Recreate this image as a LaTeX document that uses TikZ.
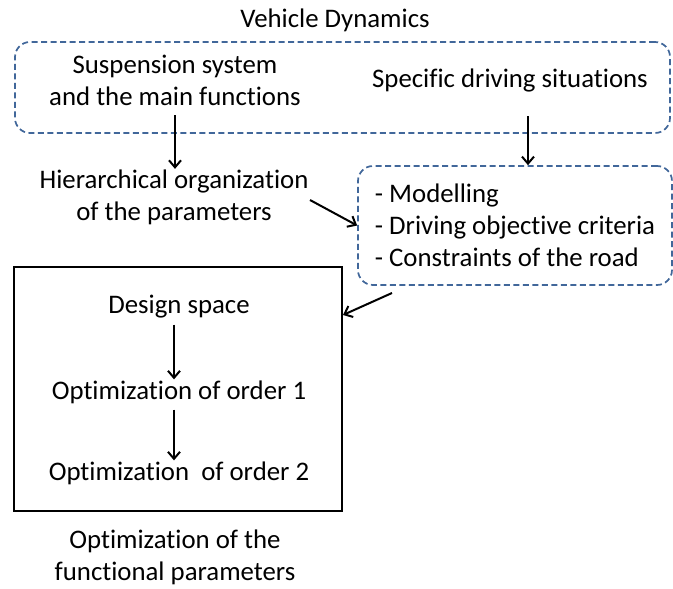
\documentclass[tikz,border=0pt]{standalone}
\usepackage{fontspec}
\setmainfont{Carlito}[Ligatures=NoCommon]
\usetikzlibrary{arrows.meta}
\definecolor{dashblue}{RGB}{65,103,154}
\begin{document}
\begin{tikzpicture}[x=1pt,y=-1pt,font=\fontsize{26.8}{32}\selectfont,
  arr/.style={line width=2pt,-{Straight Barb[length=7pt,width=12pt,line width=2pt]}},
  dashbox/.style={draw=dashblue,line width=1.7pt,dash pattern=on 6pt off 3.5pt,rounded corners=15pt,inner sep=0pt},
  lbl/.style={align=center,inner sep=1pt}]
\useasboundingbox (0,0) rectangle (673,589);
\node[lbl] (title) at (335,20) {Vehicle Dynamics};
\node[dashbox,minimum width=655pt,minimum height=91pt] (vd) at (342.5,87.5) {};
\node[lbl] (susp) at (175,80) {Suspension system\\and the main functions};
\node[lbl] (spec) at (510,80) {Specific driving situations};
\node[lbl] (hier) at (174,197.5) {Hierarchical organization\\of the parameters};
\node[dashbox,minimum width=314pt,minimum height=119pt,align=left] (crit) at (515,225.5)
  {- Modelling\\- Driving objective criteria\\- Constraints of the road};
\node[draw,line width=2.2pt,minimum width=328pt,minimum height=244pt] (big) at (178,389) {};
\node[lbl] (design) at (179,307) {Design space};
\node[lbl] (ord1) at (179,392) {Optimization of order 1};
\node[lbl] (ord2) at (179,473) {Optimization~ of order 2};
\node[lbl] (func) at (175,557.5) {Optimization of the\\functional parameters};
% connectors
\coordinate (s1) at (175,115);
\coordinate (s2) at (528,116);
\coordinate (h1) at (310,200);
\coordinate (c1) at (392,293);
\coordinate (b1) at (343,315);
\draw[arr] (s1) -- (s1 |- hier.north);
\draw[arr] (s2) -- (s2 |- crit.north);
\draw[arr] (h1) -- (crit.west);
\draw[arr] (c1) -- (b1);
\draw[arr] ([xshift=-5pt,yshift=-5pt]design.south) -- ([xshift=-5pt]design.south |- ord1.north);
\draw[arr] ([xshift=-5pt,yshift=-5pt]ord1.south) -- ([xshift=-5pt]ord1.south |- ord2.north);
\end{tikzpicture}
\end{document}
